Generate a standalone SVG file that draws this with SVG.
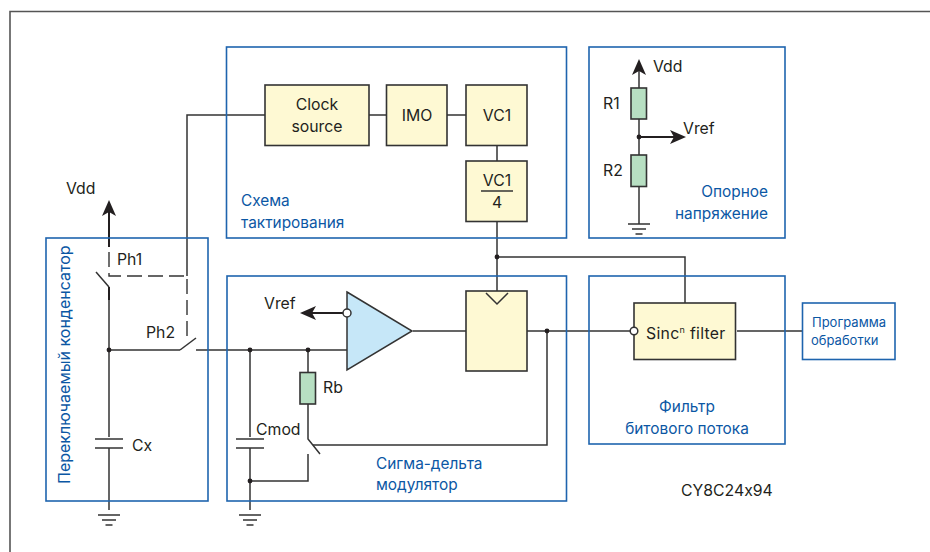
<svg xmlns="http://www.w3.org/2000/svg" width="930" height="552" viewBox="0 0 930 552">
<style>
text{font-family:Inter,"Open Sans","Liberation Sans",sans-serif;font-size:15.800px;fill:#231f20;font-feature-settings:"calt" 0}
.b{font-size:15.400px;fill:#0b57a4}
.s{font-size:13px;fill:#0b57a4}
.m{text-anchor:middle}
.box{fill:none;stroke:#1e64ae;stroke-width:1.6}
.y{fill:#fef9d3;stroke:#333;stroke-width:1.6}
.r{fill:#b7dfc2;stroke:#333;stroke-width:1.6}
.w{fill:none;stroke:#333;stroke-width:1.5}
.a{fill:none;stroke:#231f20;stroke-width:2}
.d{fill:none;stroke:#333;stroke-width:1.4;stroke-dasharray:15 6}
.o{fill:#fff;stroke:#333;stroke-width:1.5}
</style>
<defs>
<g id="gnd"><path class="w" d="M-11 0H11M-7 5H7M-3.500 10H3.500"/></g>
<path id="ah" d="M0 0L-16 -7L-12 0L-16 7Z" fill="#231f20"/>
</defs>
<rect width="930" height="552" fill="#fff"/>
<path fill="none" stroke="#555" stroke-width="1.6" d="M10 552V11.500H930"/>
<g id="connectors">
<path class="a" d="M109 212V247M109 287V300"/>
<path class="w" d="M109 300V350M109 350H180M196 350H347M109 350V437M109 448V510"/>
<path class="w" d="M96 272L109 287"/>
<path class="d" d="M109 252V276H187V342"/>
<path class="w" d="M187 276V115H265"/>
<path class="w" d="M180 350L196 338"/>
<path class="w" d="M250 350V437M250 448V510M250 481H308V454"/>
<path class="w" d="M308 350V372M308 404V439L320 454"/>
<path class="w" d="M313 445H547V331"/>
<path class="a" d="M347 313H306"/>
<path class="w" d="M413 331H466M527 331H633M737 331H802"/>
<path class="w" d="M369 115H387M447 115H466M497 146V161M497 222V292M497 257H685V303"/>
<path class="w" d="M639 68V88M639 119V155M639 187V224"/>
<path class="a" d="M639 137H676"/>
</g>
<g id="clock-domain"><rect class="box" x="226.500" y="47" width="340" height="191"/><text class="b" x="241" y="206">Схема</text><text class="b" x="241" y="228">тактирования</text></g>
<g id="vref-domain"><rect class="box" x="589" y="47" width="196" height="191"/><text class="b" x="768" y="197" text-anchor="end">Опорное</text><text class="b" x="768" y="219" text-anchor="end">напряжение</text></g>
<g id="switched-cap"><rect class="box" x="46" y="238" width="162" height="263"/><text class="b" transform="translate(70 484) rotate(-90)" style="font-size:16px">Переключаемый конденсатор</text></g>
<g id="modulator"><rect class="box" x="227" y="276" width="339.500" height="225"/><text class="b" x="376" y="469">Сигма-дельта</text><text class="b" x="376" y="490">модулятор</text></g>
<g id="bitstream"><rect class="box" x="589" y="276" width="196" height="168"/><text class="b m" x="687" y="412">Фильтр</text><text class="b m" x="687" y="434">битового потока</text></g>
<g id="processing"><rect class="box" x="802.500" y="303" width="92.500" height="56.500"/><text class="s m" x="849" y="327">Программа</text><text class="s" x="811" y="345">обработки</text></g>
<g id="clock-source"><rect class="y" x="265" y="85" width="104" height="60.500"/><text class="m" x="317" y="110">Clock</text><text class="m" x="317" y="132">source</text></g>
<g id="imo"><rect class="y" x="386.500" y="85" width="60.500" height="60.500"/><text class="m" x="417" y="121">IMO</text></g>
<g id="vc1"><rect class="y" x="466" y="85" width="61" height="60.500"/><text class="m" x="497" y="121">VC1</text></g>
<g id="vc1-4"><rect class="y" x="466" y="161" width="61" height="60.500"/><text class="m" x="497" y="186">VC1</text><path class="w" d="M481 191H513"/><text class="m" x="497" y="208">4</text></g>
<g id="amp"><path d="M347 292L412 331L347 370Z" fill="#c6e7f8" stroke="#333" stroke-width="1.5"/><circle class="o" cx="347" cy="313" r="4"/></g>
<g id="flipflop"><rect class="y" x="466" y="291" width="61" height="80"/><path class="w" d="M486 293L497 304L508 293"/></g>
<g id="sinc"><rect class="y" x="634" y="303" width="101.500" height="56.500"/><circle class="o" cx="634" cy="331" r="3.800"/><text x="646" y="339" letter-spacing=".3">Sinc<tspan font-size="9" dy="-6">n</tspan><tspan dy="6"> filter</tspan></text></g>
<g id="r1"><rect class="r" x="631" y="88" width="15.500" height="31"/><text x="603" y="109">R1</text></g>
<g id="r2"><rect class="r" x="631" y="155" width="15.500" height="31.500"/><text x="603" y="176">R2</text></g>
<g id="rb"><rect class="r" x="300" y="372.500" width="15.500" height="31.500"/><text x="323" y="393">Rb</text></g>
<g id="cx"><path class="w" d="M95 439H123M95 448H123"/><text x="132" y="451">Cx</text></g>
<g id="cmod"><path class="w" d="M236 439H264M236 448H264"/><text x="256" y="435">Cmod</text></g>
<g id="grounds"><use href="#gnd" x="109" y="515"/><use href="#gnd" x="250" y="515"/><use href="#gnd" x="639" y="224"/></g>
<g id="dots" fill="#231f20"><circle cx="109" cy="350" r="2.400"/><circle cx="250" cy="350" r="2.400"/><circle cx="308" cy="350" r="2.400"/><circle cx="250" cy="481" r="2.400"/><circle cx="497" cy="257" r="2.400"/><circle cx="547" cy="331" r="2.400"/><circle cx="639" cy="137" r="2.400"/></g>
<g id="arrows"><use href="#ah" transform="translate(109 200) rotate(-90)"/><use href="#ah" transform="translate(639 59) rotate(-90)"/><use href="#ah" transform="translate(686 137)"/><use href="#ah" transform="translate(300 313) rotate(180)"/></g>
<g id="labels"><text x="66" y="194">Vdd</text><text x="653" y="72">Vdd</text><text x="683" y="134">Vref</text><text x="264" y="309">Vref</text><text x="117" y="265">Ph1</text><text x="146" y="338">Ph2</text><text x="681" y="496">CY8C24x94</text></g>
</svg>
